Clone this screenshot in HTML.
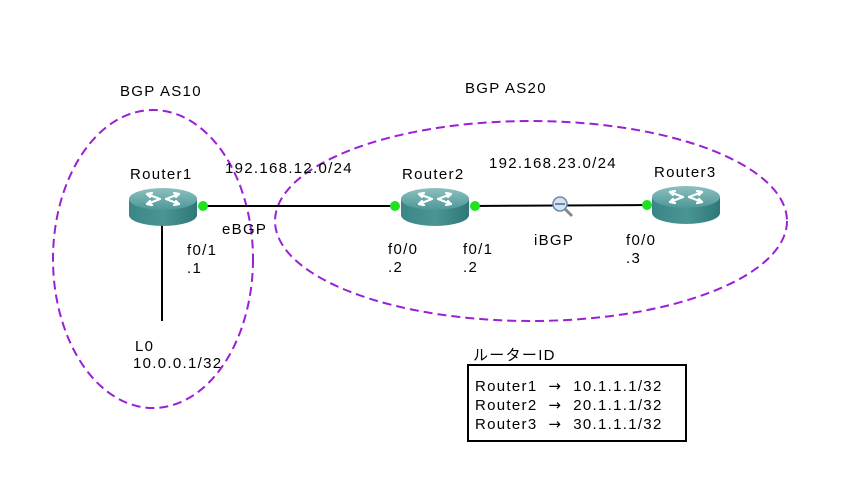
<!DOCTYPE html>
<html><head><meta charset="utf-8"><style>
html,body{margin:0;padding:0;background:#fff;}
svg text{font-family:"Liberation Sans","Noto Sans CJK JP",sans-serif;font-size:15px;letter-spacing:1.3px;fill:#000;white-space:pre;}
svg tspan.ar{font-family:"DejaVu Sans",sans-serif;font-size:15px;}
</style></head><body>
<svg width="856" height="479" viewBox="0 0 856 479" xmlns="http://www.w3.org/2000/svg">
<defs>
<linearGradient id="top" x1="0" y1="0" x2="0" y2="1"><stop offset="0" stop-color="#8cc0c0"/><stop offset="1" stop-color="#4f9797"/></linearGradient>
<linearGradient id="side" x1="0" y1="0" x2="1" y2="0"><stop offset="0" stop-color="#3a8585"/><stop offset="0.5" stop-color="#4a9595"/><stop offset="1" stop-color="#2f7878"/></linearGradient>
<g id="router">
<path d="M0,11 L0,27 A34,11 0 0 0 68,27 L68,11 Z" fill="url(#side)"/>
<ellipse cx="34" cy="11" rx="34" ry="11" fill="url(#top)"/>
<g stroke="#fff" stroke-width="2.2" fill="none" stroke-linecap="round">
<path d="M18,6 L31,11 M37,11 L50,16 M50,6 L37,11 M31,11 L18,16"/>
<path d="M18,6 L23,5 M18,6 L21,9 M50,16 L45,17 M50,16 L47,13 M50,6 L45,5 M50,6 L47,9 M18,16 L23,17 M18,16 L21,13"/>
</g>
</g>
</defs>
<ellipse cx="153" cy="259" rx="100" ry="149" fill="none" stroke="#9a1fd6" stroke-width="2" stroke-dasharray="9,5"/>
<ellipse cx="531" cy="221" rx="256" ry="100" fill="none" stroke="#9a1fd6" stroke-width="2" stroke-dasharray="9,5"/>
<line x1="162" y1="225" x2="162" y2="321" stroke="#000" stroke-width="2"/>
<line x1="200" y1="206" x2="396" y2="206" stroke="#000" stroke-width="2"/>
<line x1="474" y1="206" x2="648" y2="205" stroke="#000" stroke-width="2"/>
<use href="#router" x="129" y="188"/>
<use href="#router" x="401" y="188"/>
<use href="#router" x="652" y="186"/>
<circle cx="203" cy="206" r="5" fill="#22e022"/>
<circle cx="395" cy="206" r="5" fill="#22e022"/>
<circle cx="475" cy="206" r="5" fill="#22e022"/>
<circle cx="647" cy="205" r="5" fill="#22e022"/>
<circle cx="560" cy="204" r="7" fill="#d6e4f2" stroke="#6a8ab0" stroke-width="1.5"/>
<line x1="555" y1="204" x2="565" y2="204" stroke="#4a6a90" stroke-width="1.5"/>
<line x1="565" y1="209" x2="572" y2="216" stroke="#888" stroke-width="3"/>
<text x="120" y="96">BGP AS10</text>
<text x="465" y="93">BGP AS20</text>
<text x="130" y="179">Router1</text>
<text x="402" y="179">Router2</text>
<text x="654" y="177">Router3</text>
<text x="225" y="173">192.168.12.0/24</text>
<text x="489" y="168">192.168.23.0/24</text>
<text x="222" y="234">eBGP</text>
<text x="534" y="245">iBGP</text>
<text x="187" y="255">f0/1</text>
<text x="187" y="273">.1</text>
<text x="388" y="254">f0/0</text>
<text x="388" y="272">.2</text>
<text x="463" y="254">f0/1</text>
<text x="463" y="272">.2</text>
<text x="626" y="245">f0/0</text>
<text x="626" y="263">.3</text>
<text x="135" y="351">L0</text>
<text x="133" y="368">10.0.0.1/32</text>
<text x="473" y="360">ルーターID</text>
<rect x="468" y="365" width="218" height="76" fill="none" stroke="#000" stroke-width="2"/>
<text x="475" y="391">Router1  <tspan class="ar">→</tspan>  10.1.1.1/32</text>
<text x="475" y="410">Router2  <tspan class="ar">→</tspan>  20.1.1.1/32</text>
<text x="475" y="429">Router3  <tspan class="ar">→</tspan>  30.1.1.1/32</text>
</svg>
</body></html>
